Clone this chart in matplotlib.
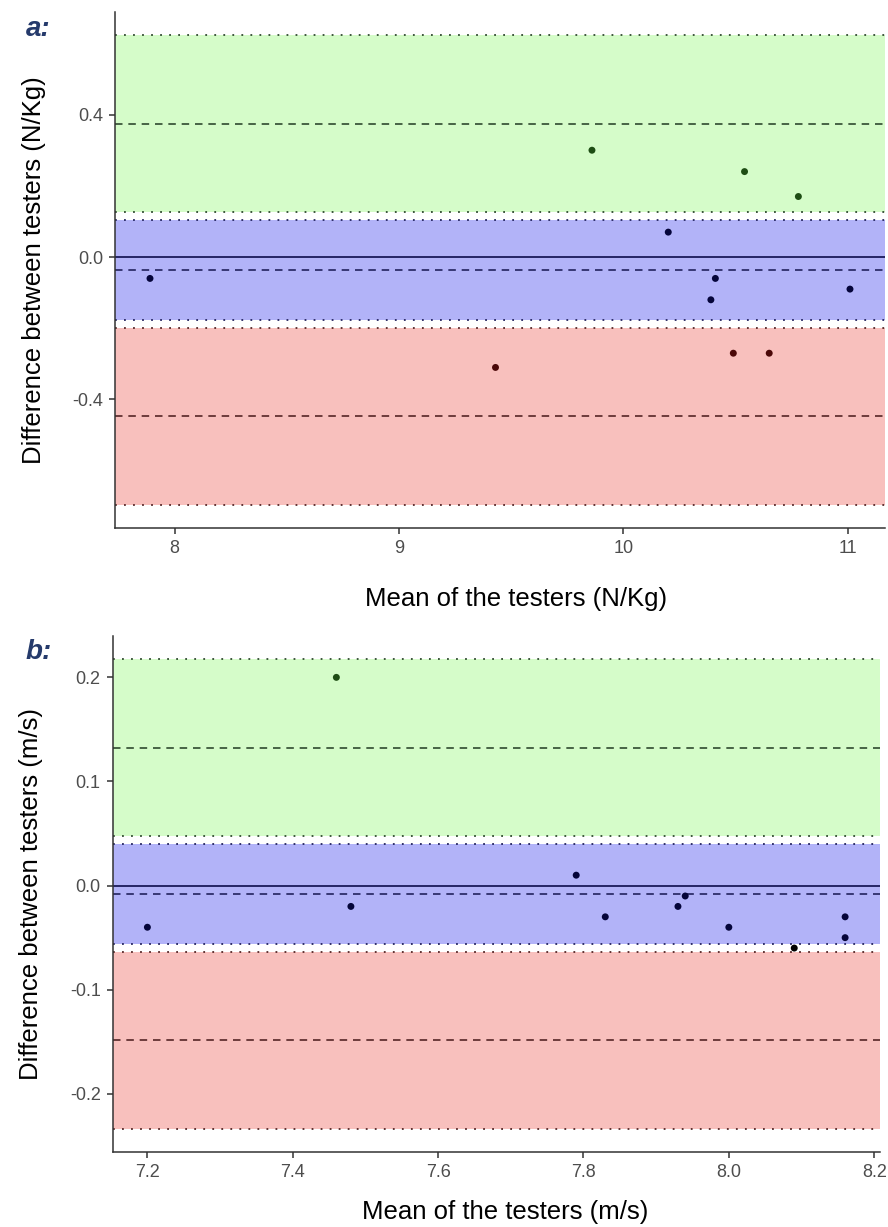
import numpy as np
import matplotlib
matplotlib.use('Agg')
import matplotlib.pyplot as plt

plt.rcParams['font.family'] = ['Liberation Sans', 'DejaVu Sans']
plt.rcParams['axes.unicode_minus'] = False

# Force (N/Kg): mean of the two testers and their difference
force_mean = [7.89, 9.43, 9.86, 10.20, 10.39, 10.41, 10.49, 10.54, 10.65, 10.78, 11.01]
force_diff = [-0.06, -0.31, 0.30, 0.07, -0.12, -0.06, -0.27, 0.24, -0.27, 0.17, -0.09]

# Speed (m/s): mean of the two testers and their difference
speed_mean = [7.20, 7.46, 7.48, 7.79, 7.83, 7.93, 7.94, 8.00, 8.09, 8.16, 8.16]
speed_diff = [-0.04, 0.20, -0.02, 0.01, -0.03, -0.02, -0.01, -0.04, -0.06, -0.03, -0.05]

force_xticks = [8, 9, 10, 11]
force_yticks = [-0.4, 0.0, 0.4]
speed_xticks = [7.2, 7.4, 7.6, 7.8, 8.0, 8.2]
speed_yticks = [-0.2, -0.1, 0.0, 0.1, 0.2]

T_CRIT = 2.228  # t(0.975, df=10)

band_fill = {'upper': '#d5fcc9', 'bias': '#b2b3f8', 'lower': '#f8c0bd'}
band_line = {'upper': '#2f4a2f', 'bias': '#22225e', 'lower': '#552626'}
point_col = {'upper': '#1e4d14', 'bias': '#05053a', 'lower': '#4b0808', None: '#000000'}


def bland_altman(diff):
    d = np.asarray(diff)
    n = len(d)
    bias = d.mean()
    sd = d.std(ddof=1)
    loa = 1.96 * sd
    ci_bias = T_CRIT * sd / np.sqrt(n)
    ci_loa = T_CRIT * sd * np.sqrt(1 / n + 1.96 ** 2 / (2 * (n - 1)))
    return {'upper': (bias + loa, ci_loa), 'bias': (bias, ci_bias), 'lower': (bias - loa, ci_loa)}


def draw_panel(ax, x, y, xticks, yticks, xlab, ylab, xfmt, xlab_pos):
    bands = bland_altman(y)
    for key, (centre, half) in bands.items():
        ax.axhspan(centre - half, centre + half, color=band_fill[key], lw=0, zorder=0)
        ax.axhline(centre - half, color=band_line[key], lw=1.3, ls=(0, (1, 4)), zorder=1)
        ax.axhline(centre + half, color=band_line[key], lw=1.3, ls=(0, (1, 4)), zorder=1)
        ax.axhline(centre, color=band_line[key], lw=1.2, ls=(0, (4.5, 3.5)), zorder=1)
    ax.axhline(0, color='#1a1a5a', lw=1.3, zorder=1)

    # colour each point by the band it falls in (black if in a gap)
    cols = []
    for v in y:
        c = None
        for key, (centre, half) in bands.items():
            if centre - half <= v <= centre + half:
                c = key
        cols.append(point_col[c])
    ax.scatter(x, y, s=25, c=cols, lw=0, zorder=3)

    lo = bands['lower'][0] - bands['lower'][1]
    hi = bands['upper'][0] + bands['upper'][1]
    pad = 0.05 * (hi - lo)
    ax.set_ylim(lo - pad, hi + pad)
    xpad = 0.05 * (max(x) - min(x))
    ax.set_xlim(min(x) - xpad, max(x) + xpad)

    ax.set_xticks(xticks)
    ax.set_xticklabels([xfmt % t for t in xticks])
    ax.set_yticks(yticks)
    ax.set_yticklabels(['%.1f' % t for t in yticks])
    for s in ['top', 'right']:
        ax.spines[s].set_visible(False)
    for s in ['left', 'bottom']:
        ax.spines[s].set_color('#333333')
        ax.spines[s].set_linewidth(1.1)
    ax.tick_params(colors='#333333', labelcolor='#4d4d4d', labelsize=13, length=4.5, width=1.1, pad=4)
    ax.set_xlabel(xlab, fontsize=18.5)
    ax.xaxis.set_label_coords(*xlab_pos)
    ax.set_ylabel(ylab, fontsize=18.5, labelpad=19)


fig = plt.figure(figsize=(8.88, 12.27), dpi=100)
ax1 = fig.add_axes([0.1295, 0.5697, 0.8671, 0.4205])
ax2 = fig.add_axes([0.1267, 0.0609, 0.8643, 0.4208])

draw_panel(ax1, force_mean, force_diff, force_xticks, force_yticks,
           'Mean of the testers (N/Kg)', 'Difference between testers (N/Kg)', '%d',
           (0.521, -0.115))
draw_panel(ax2, speed_mean, speed_diff, speed_xticks, speed_yticks,
           'Mean of the testers (m/s)', 'Difference between testers (m/s)', '%.1f',
           (0.511, -0.093))

fig.text(0.029, 0.9765, 'a:', fontsize=20, fontweight='bold', fontstyle='italic', color='#253a6b', va='center')
fig.text(0.029, 0.469, 'b:', fontsize=20, fontweight='bold', fontstyle='italic', color='#253a6b', va='center')

fig.savefig('out.png', dpi=100)
